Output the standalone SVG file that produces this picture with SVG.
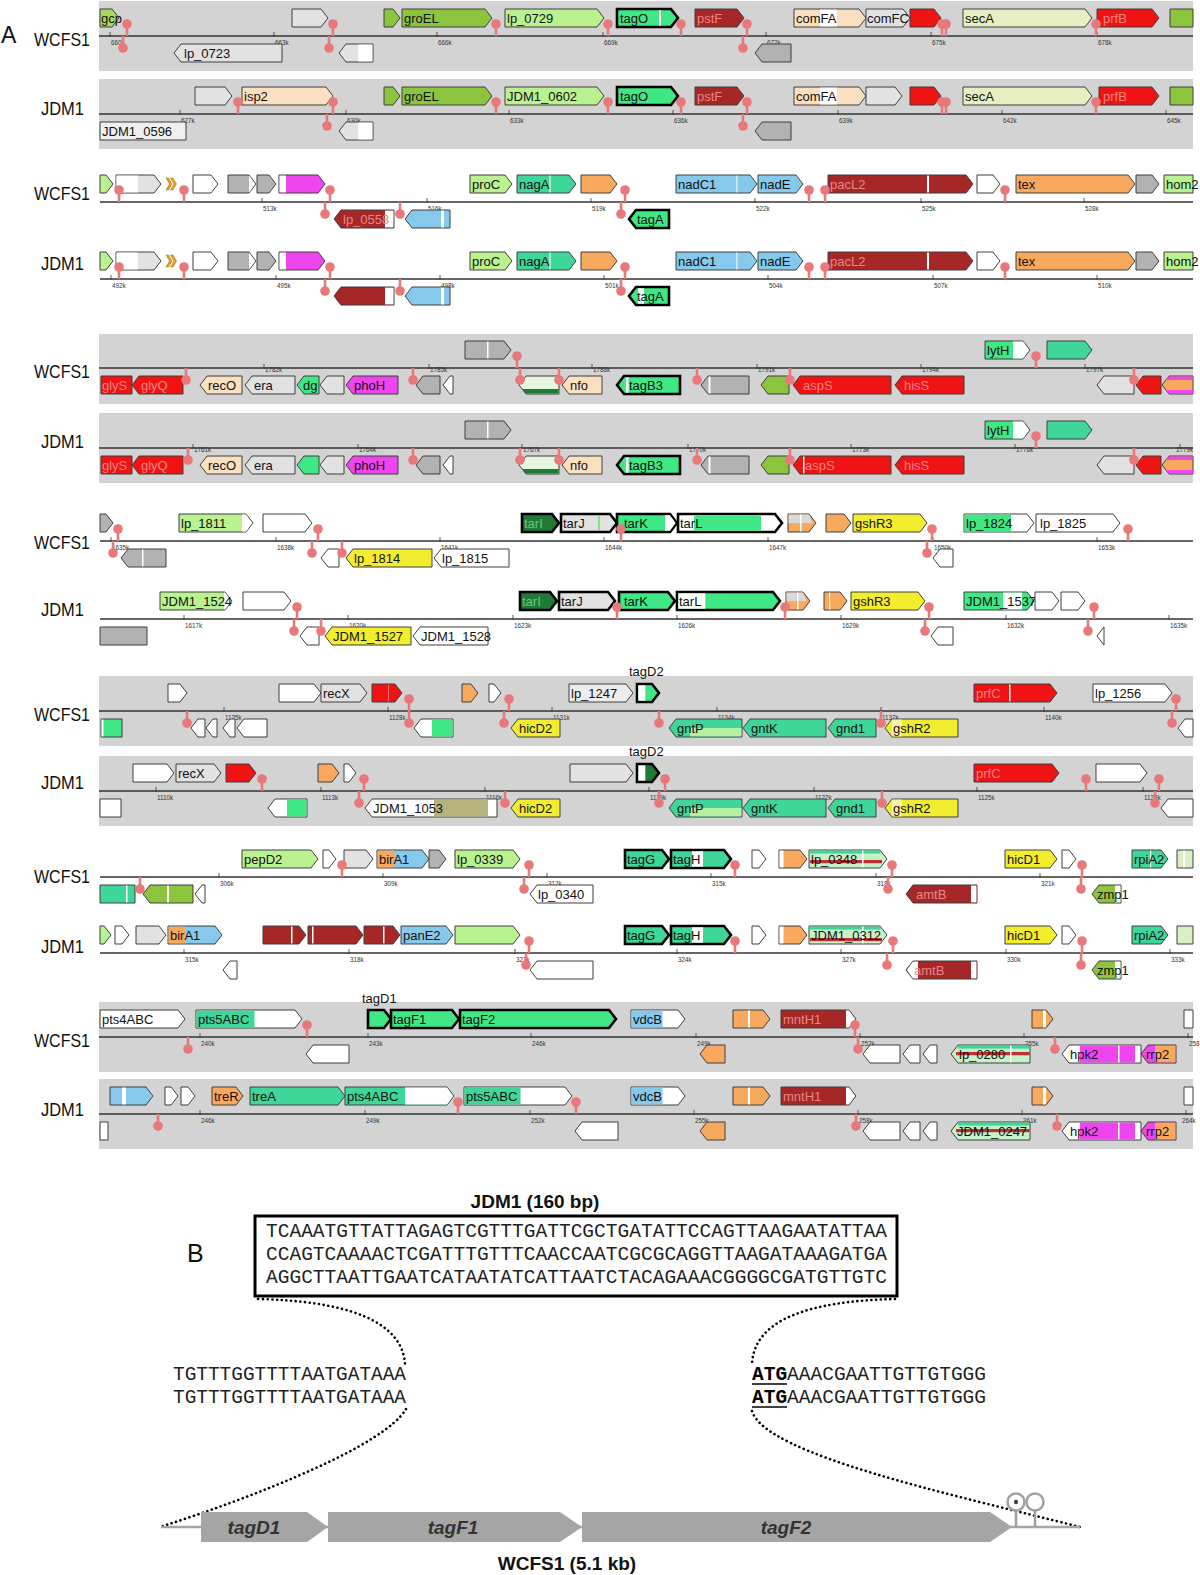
<svg xmlns="http://www.w3.org/2000/svg" width="1200" height="1575" viewBox="0 0 1200 1575">
<style>
text{font-family:"Liberation Sans",Arial,sans-serif}
.n{stroke:#3f3f3f;stroke-width:1}
.k{stroke:#000;stroke-width:2.6}
.og{fill:#a8d862}.ol{fill:#8cc43e}.lg{fill:#b9f28f}.bg{fill:#3fe884}.tl{fill:#3fd69a}.dr{fill:#a52727}.rd{fill:#f01313}.pc{fill:#fbdfc1}.sy{fill:#e6efc1}.ly{fill:#e2e2e2}.my{fill:#b2b2b2}.wh{fill:#fff}.mg{fill:#ef45ef}.lb{fill:#86c9ec}.or{fill:#f9a95e}.ye{fill:#f2ee2e}.dg{fill:#1e7a34}.kh{fill:#b4b37c}.pg{fill:#d9f0c6}.st{fill:#c6f2c8}
.bgp{fill:#d3d3d3}
.ax{stroke:#333;stroke-width:1.6;fill:none}
.l{font-size:13px;fill:#111}
.p{fill:#ee8585}
.q{fill:#6cc47a}
.x{font-size:6.3px;fill:#333}
.s{font-size:19px;fill:#111}
.tm{stroke:#e8787a;stroke-width:2.6}
.seq{font-family:"Liberation Mono","Courier New",monospace;font-size:19.5px;fill:#222}
.bl{font-weight:bold;font-size:19px;fill:#111}
.bi{font-weight:bold;font-style:italic;font-size:19px;fill:#333}
.ar{fill:#a5a5a5}
</style>
<defs>
<g id="tu"><path class="tm" d="M0,0V-12"/><circle cy="-12" r="4.8" fill="#e8787a"/></g>
<g id="td"><path class="tm" d="M0,0V12"/><circle cy="12" r="4.8" fill="#e8787a"/></g>
<path id="tk" d="M0,-4V1" stroke="#333" stroke-width="0.8"/>
</defs>
<rect width="1200" height="1575" fill="#fff"/>
<text x="1" y="43" font-size="23" fill="#111">A</text>

<!-- Panel 1 WCFS1 -->
<g id="track1-wcfs1" transform="translate(0,36)">
<rect class="bgp" x="99" y="-35" width="1094" height="70"/>
<text class="s" x="34" y="10" textLength="56" lengthAdjust="spacingAndGlyphs">WCFS1</text>
<path class="ax" d="M99,0H1193"/>
<use href="#tk" x="110"/><text class="x" x="111" y="8.5">660k</text>
<use href="#tk" x="274"/><text class="x" x="275" y="8.5">663k</text>
<use href="#tk" x="437"/><text class="x" x="438" y="8.5">666k</text>
<use href="#tk" x="603"/><text class="x" x="604" y="8.5">669k</text>
<use href="#tk" x="766"/><text class="x" x="767" y="8.5">672k</text>
<use href="#tk" x="931"/><text class="x" x="932" y="8.5">675k</text>
<use href="#tk" x="1097"/><text class="x" x="1098" y="8.5">678k</text>
<g id="w1-gcp"><path class="n og" d="M100,-27H112L119,-18L112,-9H100Z"/><text class="l" x="101" y="-13.5">gcp</text></g>
<g id="w1-lp0723"><path class="n ly" d="M174,17L181,8H282V26H181Z"/><text class="l" x="184" y="21.5">lp_0723</text></g>
<g id="w1-g3"><path class="n ly" d="M292,-27H321L328,-18L321,-9H292Z"/></g>
<g id="w1-g4"><path class="n ly" d="M339,17L346,8H373V26H346Z"/><rect class="wh" x="358" y="8.6" width="14.4" height="16.8"/></g>
<g id="w1-g5"><path class="n ol" d="M384,-27H393L400,-18L393,-9H384Z"/></g>
<g id="w1-groEL"><path class="n ol" d="M402,-27H485L492,-18L485,-9H402Z"/><text class="l" x="404" y="-13.5">groEL</text></g>
<g id="w1-lp0729"><path class="n lg" d="M505,-27H597L604,-18L597,-9H505Z"/><text class="l" x="507" y="-13.5">lp_0729</text></g>
<g id="w1-tagO"><path class="k bg" d="M617,-27H671L678,-18L671,-9H617Z"/><rect class="wh" x="659" y="-25.7" width="2" height="15.4"/><text class="l" x="620" y="-13.5">tagO</text></g>
<g id="w1-pstF"><path class="n dr" d="M695,-27H737L744,-18L737,-9H695Z"/><text class="l p" x="697" y="-13.5">pstF</text></g>
<g id="w1-g10"><path class="n my" d="M755,17L762,8H791V26H762Z"/></g>
<g id="w1-comFA"><path class="n pc" d="M794,-27H859L866,-18L859,-9H794Z"/><rect class="wh" x="820" y="-26.4" width="17" height="16.8"/><text class="l" x="796" y="-13.5">comFA</text></g>
<g id="w1-comFC"><path class="n ly" d="M866,-27H903L910,-18L903,-9H866Z"/><text class="l" x="867" y="-13.5">comFC</text></g>
<g id="w1-g13"><path class="n rd" d="M910,-27H934L941,-18L934,-9H910Z"/></g>
<g id="w1-secA"><path class="n sy" d="M963,-27H1085L1092,-18L1085,-9H963Z"/><text class="l" x="965" y="-13.5">secA</text></g>
<g id="w1-prfB"><path class="n rd" d="M1097,-27H1152L1159,-18L1152,-9H1097Z"/><text class="l p" x="1103" y="-13.5">prfB</text></g>
<g id="w1-g16"><path class="n ol" d="M1170,-27H1193V-9H1170Z"/></g>
<g id="w1-term"><use href="#tu" x="127"/><use href="#td" x="123"/><use href="#tu" x="333"/><use href="#td" x="329"/><use href="#tu" x="496"/><use href="#tu" x="608"/><use href="#tu" x="681"/><use href="#tu" x="747"/><use href="#td" x="743"/><use href="#tu" x="942"/><use href="#tu" x="946"/><use href="#tu" x="1096"/></g>
</g>

<!-- Panel 1 JDM1 -->
<g id="track1-jdm1" transform="translate(0,114)">
<rect class="bgp" x="99" y="-35" width="1094" height="70"/>
<text class="s" x="41" y="1" textLength="43" lengthAdjust="spacingAndGlyphs">JDM1</text>
<path class="ax" d="M99,0H1193"/>
<use href="#tk" x="180"/><text class="x" x="181" y="8.5">627k</text>
<use href="#tk" x="346"/><text class="x" x="347" y="8.5">630k</text>
<use href="#tk" x="509"/><text class="x" x="510" y="8.5">633k</text>
<use href="#tk" x="673"/><text class="x" x="674" y="8.5">636k</text>
<use href="#tk" x="838"/><text class="x" x="839" y="8.5">639k</text>
<use href="#tk" x="1002"/><text class="x" x="1003" y="8.5">642k</text>
<use href="#tk" x="1166"/><text class="x" x="1167" y="8.5">645k</text>
<g id="j1-0596"><path class="n" fill="#efefef" d="M100,8H186V26H100Z"/><text class="l" x="102" y="21.5">JDM1_0596</text></g>
<g id="j1-g2"><path class="n ly" d="M195,-27H225L232,-18L225,-9H195Z"/></g>
<g id="j1-isp2"><path class="n pc" d="M242,-27H326L333,-18L326,-9H242Z"/><text class="l" x="244" y="-13.5">isp2</text></g>
<g id="j1-g4"><path class="n ly" d="M339,17L346,8H373V26H346Z"/><rect class="wh" x="358" y="8.6" width="14.4" height="16.8"/></g>
<g id="j1-g5"><path class="n ol" d="M384,-27H393L400,-18L393,-9H384Z"/></g>
<g id="j1-groEL"><path class="n ol" d="M402,-27H485L492,-18L485,-9H402Z"/><text class="l" x="404" y="-13.5">groEL</text></g>
<g id="j1-0602"><path class="n lg" d="M505,-27H597L604,-18L597,-9H505Z"/><text class="l" x="507" y="-13.5">JDM1_0602</text></g>
<g id="j1-tagO"><path class="k bg" d="M617,-27H671L678,-18L671,-9H617Z"/><text class="l" x="620" y="-13.5">tagO</text></g>
<g id="j1-pstF"><path class="n dr" d="M695,-27H737L744,-18L737,-9H695Z"/><text class="l p" x="697" y="-13.5">pstF</text></g>
<g id="j1-g10"><path class="n my" d="M755,17L762,8H791V26H762Z"/></g>
<g id="j1-comFA"><path class="n pc" d="M794,-27H859L866,-18L859,-9H794Z"/><rect class="wh" x="820" y="-26.4" width="17" height="16.8"/><text class="l" x="796" y="-13.5">comFA</text></g>
<g id="j1-g12"><path class="n ly" d="M866,-27H895L902,-18L895,-9H866Z"/></g>
<g id="j1-g13"><path class="n rd" d="M910,-27H934L941,-18L934,-9H910Z"/></g>
<g id="j1-secA"><path class="n sy" d="M963,-27H1085L1092,-18L1085,-9H963Z"/><text class="l" x="965" y="-13.5">secA</text></g>
<g id="j1-prfB"><path class="n rd" d="M1099,-27H1152L1159,-18L1152,-9H1099Z"/><text class="l p" x="1103" y="-13.5">prfB</text></g>
<g id="j1-g16"><path class="n ol" d="M1170,-27H1193V-9H1170Z"/></g>
<g id="j1-term"><use href="#tu" x="238"/><use href="#tu" x="333"/><use href="#td" x="327"/><use href="#tu" x="496"/><use href="#tu" x="608"/><use href="#tu" x="681"/><use href="#tu" x="747"/><use href="#td" x="743"/><use href="#tu" x="942"/><use href="#tu" x="946"/><use href="#tu" x="1096"/></g>
</g>

<!-- Panel 2 WCFS1 -->
<g id="track2-wcfs1" transform="translate(0,202)">
<text class="s" x="34" y="-2" textLength="56" lengthAdjust="spacingAndGlyphs">WCFS1</text>
<path class="ax" d="M100,0H1193"/>
<use href="#tk" x="262"/><text class="x" x="263" y="8.5">513k</text>
<use href="#tk" x="427"/><text class="x" x="428" y="8.5">516k</text>
<use href="#tk" x="591"/><text class="x" x="592" y="8.5">519k</text>
<use href="#tk" x="755"/><text class="x" x="756" y="8.5">522k</text>
<use href="#tk" x="921"/><text class="x" x="922" y="8.5">525k</text>
<use href="#tk" x="1084"/><text class="x" x="1085" y="8.5">528k</text>
<g id="w2-g1"><path class="n lg" d="M100,-27H106L113,-18L106,-9H100Z"/></g>
<g id="w2-g2"><path class="n ly" d="M116,-27H154L161,-18L154,-9H116Z"/><rect class="wh" x="116.5" y="-26.4" width="21.5" height="16.8"/></g>
<g id="w2-ch"><path fill="#e9a21e" stroke="#9a6a10" stroke-width="0.5" d="M166,-24L168.5,-24L172,-18L168.5,-12L166,-12L169.5,-18Z M170.5,-24L173,-24L176.5,-18L173,-12L170.5,-12L174,-18Z"/></g>
<g id="w2-g4"><path class="n wh" d="M193,-27H211L218,-18L211,-9H193Z"/></g>
<g id="w2-g5"><path class="n my" d="M228,-27H249L256,-18L249,-9H228Z"/><path class="wh" d="M249,-26.4L255.3,-18L249,-9.6Z"/></g>
<g id="w2-g6"><path class="n my" d="M257,-27H269L276,-18L269,-9H257Z"/></g>
<g id="w2-g7"><path class="n mg" d="M279,-27H318L325,-18L318,-9H279Z"/><rect class="wh" x="279.5" y="-26.4" width="6.5" height="16.8"/></g>
<g id="w2-lp0558"><path class="n dr" d="M334,17L341,8H394V26H341Z"/><rect class="wh" x="385" y="8.6" width="8.5" height="16.8"/><text class="l p" x="343" y="21.5">lp_0558</text></g>
<g id="w2-g9"><path class="n lb" d="M405,17L412,8H450V26H412Z"/><rect class="wh" x="441" y="8.6" width="3" height="16.8"/></g>
<g id="w2-proC"><path class="n lg" d="M470,-27H505L512,-18L505,-9H470Z"/><text class="l" x="472" y="-13.5">proC</text></g>
<g id="w2-nagA"><path class="n tl" d="M517,-27H569L576,-18L569,-9H517Z"/><rect fill="#a5ecc8" x="549" y="-26.4" width="2" height="16.8"/><text class="l" x="519" y="-13.5">nagA</text></g>
<g id="w2-g12"><path class="n or" d="M581,-27H610L617,-18L610,-9H581Z"/></g>
<g id="w2-tagA"><path class="k bg" d="M629,17L636,8H669V26H636Z"/><text class="l" x="637" y="21.5">tagA</text></g>
<g id="w2-nadC1"><path class="n lb" d="M676,-27H750L757,-18L750,-9H676Z"/><rect fill="#d2ecf8" x="736" y="-26.4" width="1.5" height="16.8"/><text class="l" x="678" y="-13.5">nadC1</text></g>
<g id="w2-nadE"><path class="n lb" d="M758,-27H796L803,-18L796,-9H758Z"/><text class="l" x="760" y="-13.5">nadE</text></g>
<g id="w2-pacL2"><path class="n dr" d="M828,-27H966L973,-18L966,-9H828Z"/><rect class="wh" x="927" y="-26.4" width="2" height="16.8"/><text class="l p" x="830" y="-13.5">pacL2</text></g>
<g id="w2-g17"><path class="n wh" d="M977,-27H993L1000,-18L993,-9H977Z"/></g>
<g id="w2-tex"><path class="n or" d="M1016,-27H1128L1135,-18L1128,-9H1016Z"/><text class="l" x="1018" y="-13.5">tex</text></g>
<g id="w2-g19"><path class="n my" d="M1136,-27H1152L1159,-18L1152,-9H1136Z"/></g>
<g id="w2-hom2"><path class="n lg" d="M1164,-27H1193V-9H1164Z"/><text class="l" x="1166" y="-13.5">hom2</text></g>
<g id="w2-term"><use href="#tu" x="119"/><use href="#tu" x="184"/><use href="#tu" x="330"/><use href="#td" x="325"/><use href="#td" x="400"/><use href="#tu" x="625"/><use href="#td" x="621"/><use href="#tu" x="809"/><use href="#tu" x="825"/><use href="#tu" x="1005"/></g>
</g>

<!-- Panel 2 JDM1 -->
<g id="track2-jdm1" transform="translate(0,279)">
<text class="s" x="41" y="-9" textLength="43" lengthAdjust="spacingAndGlyphs">JDM1</text>
<path class="ax" d="M100,0H1193"/>
<use href="#tk" x="111"/><text class="x" x="112" y="8.5">492k</text>
<use href="#tk" x="276"/><text class="x" x="277" y="8.5">495k</text>
<use href="#tk" x="440"/><text class="x" x="441" y="8.5">498k</text>
<use href="#tk" x="604"/><text class="x" x="605" y="8.5">501k</text>
<use href="#tk" x="768"/><text class="x" x="769" y="8.5">504k</text>
<use href="#tk" x="933"/><text class="x" x="934" y="8.5">507k</text>
<use href="#tk" x="1097"/><text class="x" x="1098" y="8.5">510k</text>
<g id="j2-g1"><path class="n lg" d="M100,-27H106L113,-18L106,-9H100Z"/></g>
<g id="j2-g2"><path class="n ly" d="M116,-27H154L161,-18L154,-9H116Z"/><rect class="wh" x="116.5" y="-26.4" width="21.5" height="16.8"/></g>
<g id="j2-ch"><path fill="#e9a21e" stroke="#9a6a10" stroke-width="0.5" d="M166,-24L168.5,-24L172,-18L168.5,-12L166,-12L169.5,-18Z M170.5,-24L173,-24L176.5,-18L173,-12L170.5,-12L174,-18Z"/></g>
<g id="j2-g4"><path class="n wh" d="M193,-27H211L218,-18L211,-9H193Z"/></g>
<g id="j2-g5"><path class="n my" d="M228,-27H249L256,-18L249,-9H228Z"/><path class="wh" d="M249,-26.4L255.3,-18L249,-9.6Z"/></g>
<g id="j2-g6"><path class="n my" d="M257,-27H269L276,-18L269,-9H257Z"/></g>
<g id="j2-g7"><path class="n mg" d="M279,-27H318L325,-18L318,-9H279Z"/><rect class="wh" x="279.5" y="-26.4" width="6.5" height="16.8"/></g>
<g id="j2-g8"><path class="n dr" d="M334,17L341,8H394V26H341Z"/><rect class="wh" x="385" y="8.6" width="8.5" height="16.8"/></g>
<g id="j2-g9"><path class="n lb" d="M405,17L412,8H450V26H412Z"/><rect class="wh" x="441" y="8.6" width="3" height="16.8"/></g>
<g id="j2-proC"><path class="n lg" d="M470,-27H505L512,-18L505,-9H470Z"/><text class="l" x="472" y="-13.5">proC</text></g>
<g id="j2-nagA"><path class="n tl" d="M517,-27H569L576,-18L569,-9H517Z"/><rect fill="#a5ecc8" x="549" y="-26.4" width="2" height="16.8"/><text class="l" x="519" y="-13.5">nagA</text></g>
<g id="j2-g12"><path class="n or" d="M581,-27H610L617,-18L610,-9H581Z"/></g>
<g id="j2-tagA"><path class="k bg" d="M629,17L636,8H669V26H636Z"/><rect class="wh" x="638" y="9.3" width="6" height="15.4"/><text class="l" x="637" y="21.5">tagA</text></g>
<g id="j2-nadC1"><path class="n lb" d="M676,-27H750L757,-18L750,-9H676Z"/><rect fill="#d2ecf8" x="736" y="-26.4" width="1.5" height="16.8"/><text class="l" x="678" y="-13.5">nadC1</text></g>
<g id="j2-nadE"><path class="n lb" d="M758,-27H796L803,-18L796,-9H758Z"/><text class="l" x="760" y="-13.5">nadE</text></g>
<g id="j2-pacL2"><path class="n dr" d="M828,-27H966L973,-18L966,-9H828Z"/><rect class="wh" x="927" y="-26.4" width="2" height="16.8"/><text class="l p" x="830" y="-13.5">pacL2</text></g>
<g id="j2-g17"><path class="n wh" d="M977,-27H993L1000,-18L993,-9H977Z"/></g>
<g id="j2-tex"><path class="n or" d="M1016,-27H1128L1135,-18L1128,-9H1016Z"/><text class="l" x="1018" y="-13.5">tex</text></g>
<g id="j2-g19"><path class="n my" d="M1136,-27H1152L1159,-18L1152,-9H1136Z"/></g>
<g id="j2-hom2"><path class="n lg" d="M1164,-27H1193V-9H1164Z"/><text class="l" x="1166" y="-13.5">hom2</text></g>
<g id="j2-term"><use href="#tu" x="119"/><use href="#tu" x="184"/><use href="#tu" x="330"/><use href="#td" x="325"/><use href="#td" x="400"/><use href="#tu" x="625"/><use href="#td" x="621"/><use href="#tu" x="809"/><use href="#tu" x="825"/><use href="#tu" x="1005"/></g>
</g>

<!-- Panel 3 WCFS1 -->
<g id="track3-wcfs1" transform="translate(0,368)">
<rect class="bgp" x="99" y="-34" width="1094" height="70"/>
<text class="s" x="34" y="10" textLength="56" lengthAdjust="spacingAndGlyphs">WCFS1</text>
<path class="ax" d="M99,0H1193"/>
<use href="#tk" x="264"/><text class="x" x="265" y="4">1782k</text>
<use href="#tk" x="429"/><text class="x" x="430" y="4">1785k</text>
<use href="#tk" x="592"/><text class="x" x="593" y="4">1788k</text>
<use href="#tk" x="757"/><text class="x" x="758" y="4">1791k</text>
<use href="#tk" x="921"/><text class="x" x="922" y="4">1794k</text>
<use href="#tk" x="1085"/><text class="x" x="1086" y="4">1797k</text>
<g id="w3-glyS"><path class="n rd" d="M101,8H132V26H101Z"/><text class="l p" x="102" y="21.5">glyS</text></g>
<g id="w3-glyQ"><path class="n rd" d="M132,17L139,8H183V26H139Z"/><text class="l p" x="141" y="21.5">glyQ</text></g>
<g id="w3-recO"><path class="n pc" d="M200,17L207,8H242V26H207Z"/><text class="l" x="208" y="21.5">recO</text></g>
<g id="w3-era"><path class="n ly" d="M245,17L252,8H295V26H252Z"/><text class="l" x="254" y="21.5">era</text></g>
<g id="w3-dg"><path class="n bg" d="M297,17L304,8H319V26H304Z"/><text class="l" x="303" y="21.5">dg</text></g>
<g id="w3-g6"><path class="n ly" d="M320,17L327,8H344V26H327Z"/></g>
<g id="w3-phoH"><path class="n mg" d="M346,17L353,8H398V26H353Z"/><text class="l" x="354" y="21.5">phoH</text></g>
<g id="w3-g8"><path class="n my" d="M416,17L423,8H440V26H423Z"/></g>
<g id="w3-g9"><path class="n wh" d="M443,17L450,8H453V26H450Z"/></g>
<g id="w3-g10"><path class="n my" d="M465,-27H504L511,-18L504,-9H465Z"/><rect class="wh" x="487" y="-26.4" width="1.5" height="16.8"/></g>
<g id="w3-g11"><path class="n" fill="#e6f6de" d="M519,17L526,8H559V26H526Z"/><path class="dg" d="M522.1,21H558.5V25.5H525.5Z"/></g>
<g id="w3-nfo"><path class="n pc" d="M562,17L569,8H602V26H569Z"/><text class="l" x="570" y="21.5">nfo</text></g>
<g id="w3-tagB3"><path class="k bg" d="M617,17L624,8H680V26H624Z"/><rect class="wh" x="626" y="9.3" width="2.5" height="15.4"/><text class="l" x="629" y="21.5">tagB3</text></g>
<g id="w3-g14"><path class="n my" d="M701,17L708,8H749V26H708Z"/><rect class="wh" x="708.5" y="8.6" width="2" height="16.8"/></g>
<g id="w3-g15"><path class="n ol" d="M761,17L768,8H789V26H768Z"/></g>
<g id="w3-aspS"><path class="n rd" d="M793,17L800,8H891V26H800Z"/><text class="l p" x="803" y="21.5">aspS</text></g>
<g id="w3-hisS"><path class="n rd" d="M895,17L902,8H964V26H902Z"/><text class="l p" x="904" y="21.5">hisS</text></g>
<g id="w3-lytH"><path class="n bg" d="M985,-27H1023L1030,-18L1023,-9H985Z"/><path class="wh" d="M1013,-26.4H1023L1029.3,-18L1023,-9.6H1013Z"/><text class="l" x="987" y="-13.5">lytH</text></g>
<g id="w3-g19"><path class="n tl" d="M1047,-27H1085L1092,-18L1085,-9H1047Z"/></g>
<g id="w3-g20"><path class="n ly" d="M1097,17L1104,8H1134V26H1104Z"/></g>
<g id="w3-g21"><path class="n rd" d="M1136,17L1143,8H1161V26H1143Z"/></g>
<g id="w3-g22"><path class="n or" d="M1162,17L1169,8H1193V26H1169Z"/><path class="mg" d="M1168.5,8.6H1193V12H1165.9Z M1165.9,22H1193V25.4H1168.5Z"/></g>
<g id="w3-term"><use href="#td" x="186"/><use href="#td" x="413"/><use href="#tu" x="517"/><use href="#td" x="520"/><use href="#td" x="559"/><use href="#td" x="697"/><use href="#td" x="790"/><use href="#tu" x="1036"/><use href="#td" x="1134"/></g>
</g>

<!-- Panel 3 JDM1 -->
<g id="track3-jdm1" transform="translate(0,448)">
<rect class="bgp" x="99" y="-35" width="1094" height="70"/>
<text class="s" x="41" y="0" textLength="43" lengthAdjust="spacingAndGlyphs">JDM1</text>
<path class="ax" d="M99,0H1193"/>
<use href="#tk" x="193"/><text class="x" x="194" y="4">1761k</text>
<use href="#tk" x="358"/><text class="x" x="359" y="4">1764k</text>
<use href="#tk" x="522"/><text class="x" x="523" y="4">1767k</text>
<use href="#tk" x="688"/><text class="x" x="689" y="4">1770k</text>
<use href="#tk" x="851"/><text class="x" x="852" y="4">1773k</text>
<use href="#tk" x="1015"/><text class="x" x="1016" y="4">1776k</text>
<use href="#tk" x="1180"/><text class="x" x="1176" y="4">1779k</text>
<g id="j3-glyS"><path class="n rd" d="M101,8H132V26H101Z"/><text class="l p" x="102" y="21.5">glyS</text></g>
<g id="j3-glyQ"><path class="n rd" d="M132,17L139,8H183V26H139Z"/><text class="l p" x="141" y="21.5">glyQ</text></g>
<g id="j3-recO"><path class="n pc" d="M200,17L207,8H242V26H207Z"/><text class="l" x="208" y="21.5">recO</text></g>
<g id="j3-era"><path class="n ly" d="M245,17L252,8H295V26H252Z"/><text class="l" x="254" y="21.5">era</text></g>
<g id="j3-g5"><path class="n bg" d="M297,17L304,8H319V26H304Z"/></g>
<g id="j3-g6"><path class="n ly" d="M320,17L327,8H344V26H327Z"/></g>
<g id="j3-phoH"><path class="n mg" d="M346,17L353,8H398V26H353Z"/><text class="l" x="354" y="21.5">phoH</text></g>
<g id="j3-g8"><path class="n my" d="M416,17L423,8H440V26H423Z"/></g>
<g id="j3-g9"><path class="n wh" d="M443,17L450,8H453V26H450Z"/></g>
<g id="j3-g10"><path class="n my" d="M465,-27H504L511,-18L504,-9H465Z"/><rect class="wh" x="487" y="-26.4" width="1.5" height="16.8"/></g>
<g id="j3-g11"><path class="n" fill="#e6f6de" d="M519,17L526,8H559V26H526Z"/><path class="dg" d="M522.1,21H558.5V25.5H525.5Z"/></g>
<g id="j3-nfo"><path class="n pc" d="M562,17L569,8H602V26H569Z"/><text class="l" x="570" y="21.5">nfo</text></g>
<g id="j3-tagB3"><path class="k bg" d="M617,17L624,8H680V26H624Z"/><rect class="wh" x="626" y="9.3" width="2.5" height="15.4"/><text class="l" x="629" y="21.5">tagB3</text></g>
<g id="j3-g14"><path class="n my" d="M701,17L708,8H749V26H708Z"/><rect class="wh" x="708.5" y="8.6" width="2" height="16.8"/></g>
<g id="j3-g15"><path class="n ol" d="M761,17L768,8H789V26H768Z"/></g>
<g id="j3-aspS"><path class="n rd" d="M793,17L800,8H891V26H800Z"/><rect class="wh" x="803" y="8.6" width="1.5" height="16.8"/><text class="l p" x="805" y="21.5">aspS</text></g>
<g id="j3-hisS"><path class="n rd" d="M895,17L902,8H964V26H902Z"/><text class="l p" x="904" y="21.5">hisS</text></g>
<g id="j3-lytH"><path class="n bg" d="M985,-27H1023L1030,-18L1023,-9H985Z"/><path class="wh" d="M1013,-26.4H1023L1029.3,-18L1023,-9.6H1013Z"/><text class="l" x="987" y="-13.5">lytH</text></g>
<g id="j3-g19"><path class="n tl" d="M1047,-27H1085L1092,-18L1085,-9H1047Z"/></g>
<g id="j3-g20"><path class="n ly" d="M1097,17L1104,8H1134V26H1104Z"/></g>
<g id="j3-g21"><path class="n rd" d="M1136,17L1143,8H1161V26H1143Z"/></g>
<g id="j3-g22"><path class="n or" d="M1162,17L1169,8H1193V26H1169Z"/><path class="mg" d="M1168.5,8.6H1193V12H1165.9Z M1165.9,22H1193V25.4H1168.5Z"/></g>
<g id="j3-term"><use href="#td" x="188"/><use href="#td" x="413"/><use href="#td" x="520"/><use href="#td" x="559"/><use href="#td" x="697"/><use href="#td" x="790"/><use href="#tu" x="1036"/><use href="#td" x="1134"/></g>
</g>

<!-- Panel 4 WCFS1 -->
<g id="track4-wcfs1" transform="translate(0,541)">
<text class="s" x="34" y="8" textLength="56" lengthAdjust="spacingAndGlyphs">WCFS1</text>
<path class="ax" d="M100,0H1193"/>
<use href="#tk" x="111"/><text class="x" x="112" y="8.5">1635k</text>
<use href="#tk" x="276"/><text class="x" x="277" y="8.5">1638k</text>
<use href="#tk" x="440"/><text class="x" x="441" y="8.5">1641k</text>
<use href="#tk" x="604"/><text class="x" x="605" y="8.5">1644k</text>
<use href="#tk" x="768"/><text class="x" x="769" y="8.5">1647k</text>
<use href="#tk" x="933"/><text class="x" x="934" y="8.5">1650k</text>
<use href="#tk" x="1097"/><text class="x" x="1098" y="8.5">1653k</text>
<g id="w4-g1"><path class="n my" d="M100,-27H106L113,-18L106,-9H100Z"/></g>
<g id="w4-g2"><path class="n my" d="M121,17L128,8H166V26H128Z"/><rect class="wh" x="142" y="8.6" width="1.5" height="16.8"/></g>
<g id="w4-lp1811"><path class="n lg" d="M179,-27H246L253,-18L246,-9H179Z"/><path class="wh" d="M242,-26.4H246L252.3,-18L246,-9.6H242Z"/><text class="l" x="181" y="-13.5">lp_1811</text></g>
<g id="w4-g4"><path class="n wh" d="M263,-27H305L312,-18L305,-9H263Z"/></g>
<g id="w4-g5"><path class="n wh" d="M321,17L328,8H339V26H328Z"/></g>
<g id="w4-lp1814"><path class="n ye" d="M346,17L353,8H432V26H353Z"/><text class="l" x="354" y="21.5">lp_1814</text></g>
<g id="w4-lp1815"><path class="n wh" d="M434,17L441,8H509V26H441Z"/><text class="l" x="442" y="21.5">lp_1815</text></g>
<g id="w4-tarI"><path class="k dg" d="M522,-27H552L559,-18L552,-9H522Z"/><text class="l q" x="524" y="-13.5">tarI</text></g>
<g id="w4-tarJ"><path class="k ly" d="M561,-27H610L617,-18L610,-9H561Z"/><rect fill="#7ee87e" x="598" y="-25" width="2" height="14"/><text class="l" x="563" y="-13.5">tarJ</text></g>
<g id="w4-tarK"><path class="k bg" d="M617,-27H670L677,-18L670,-9H617Z"/><path class="wh" d="M665,-25.7H670L675.5,-18L670,-10.3H665Z"/><text class="l" x="624" y="-13.5">tarK</text></g>
<g id="w4-tarL"><path class="k wh" d="M678,-27H775L782,-18L775,-9H678Z"/><rect class="bg" x="694" y="-25.7" width="67" height="15.4"/><text class="l" x="680" y="-13.5">tarL</text></g>
<g id="w4-g12"><path class="n or" d="M788,-27H809L816,-18L809,-9H788Z"/><path fill="#d9d9d9" d="M788.5,-26.4H809L812.5,-18H788.5Z"/><rect class="wh" x="800" y="-26.4" width="1.5" height="16.8"/></g>
<g id="w4-g13"><path class="n or" d="M826,-27H844L851,-18L844,-9H826Z"/></g>
<g id="w4-gshR3"><path class="n ye" d="M853,-27H920L927,-18L920,-9H853Z"/><text class="l" x="855" y="-13.5">gshR3</text></g>
<g id="w4-g15"><path class="n wh" d="M933,17L940,8H953V26H940Z"/></g>
<g id="w4-lp1824"><path class="n wh" d="M964,-27H1027L1034,-18L1027,-9H964Z"/><rect class="bg" x="964.5" y="-26.4" width="46.5" height="16.8"/><text class="l" x="966" y="-13.5">lp_1824</text></g>
<g id="w4-lp1825"><path class="n wh" d="M1036,-27H1113L1120,-18L1113,-9H1036Z"/><text class="l" x="1040" y="-13.5">lp_1825</text></g>
<g id="w4-term"><use href="#tu" x="118"/><use href="#td" x="113"/><use href="#tu" x="318"/><use href="#td" x="312"/><use href="#td" x="342"/><use href="#tu" x="621"/><use href="#tu" x="932"/><use href="#td" x="927"/><use href="#tu" x="1128"/></g>
</g>

<!-- Panel 4 JDM1 -->
<g id="track4-jdm1" transform="translate(0,619)">
<text class="s" x="41" y="-3" textLength="43" lengthAdjust="spacingAndGlyphs">JDM1</text>
<path class="ax" d="M100,0H1193"/>
<use href="#tk" x="184"/><text class="x" x="185" y="8.5">1617k</text>
<use href="#tk" x="348"/><text class="x" x="349" y="8.5">1620k</text>
<use href="#tk" x="513"/><text class="x" x="514" y="8.5">1623k</text>
<use href="#tk" x="677"/><text class="x" x="678" y="8.5">1626k</text>
<use href="#tk" x="841"/><text class="x" x="842" y="8.5">1629k</text>
<use href="#tk" x="1006"/><text class="x" x="1007" y="8.5">1632k</text>
<use href="#tk" x="1169"/><text class="x" x="1170" y="8.5">1635k</text>
<g id="j4-g1"><path class="n my" d="M100,8H147V26H100Z"/></g>
<g id="j4-1524"><path class="n lg" d="M160,-27H225L232,-18L225,-9H160Z"/><path class="wh" d="M224,-26.4H225L231.3,-18L225,-9.6H224Z"/><text class="l" x="162" y="-13.5">JDM1_1524</text></g>
<g id="j4-g3"><path class="n wh" d="M243,-27H284L291,-18L284,-9H243Z"/></g>
<g id="j4-g4"><path class="n wh" d="M300,17L307,8H319V26H307Z"/></g>
<g id="j4-1527"><path class="n ye" d="M325,17L332,8H411V26H332Z"/><text class="l" x="333" y="21.5">JDM1_1527</text></g>
<g id="j4-1528"><path class="n wh" d="M413,17L420,8H488V26H420Z"/><text class="l" x="421" y="21.5">JDM1_1528</text></g>
<g id="j4-tarI"><path class="k dg" d="M520,-27H550L557,-18L550,-9H520Z"/><text class="l q" x="522" y="-13.5">tarI</text></g>
<g id="j4-tarJ"><path class="k ly" d="M559,-27H608L615,-18L608,-9H559Z"/><text class="l" x="561" y="-13.5">tarJ</text></g>
<g id="j4-tarK"><path class="k bg" d="M619,-27H668L675,-18L668,-9H619Z"/><text class="l" x="624" y="-13.5">tarK</text></g>
<g id="j4-tarL"><path class="k bg" d="M677,-27H773L780,-18L773,-9H677Z"/><rect class="wh" x="678.3" y="-25.7" width="27" height="15.4"/><text class="l" x="679" y="-13.5">tarL</text></g>
<g id="j4-g12"><path class="n or" d="M786,-27H803L810,-18L803,-9H786Z"/><path fill="#d9d9d9" d="M786.5,-26.4H803L806.5,-18H786.5Z"/><rect class="wh" x="797" y="-26.4" width="1.5" height="16.8"/></g>
<g id="j4-g13"><path class="n or" d="M824,-27H840L847,-18L840,-9H824Z"/><rect class="wh" x="829" y="-26.4" width="1.2" height="16.8"/></g>
<g id="j4-gshR3"><path class="n ye" d="M851,-27H918L925,-18L918,-9H851Z"/><text class="l" x="853" y="-13.5">gshR3</text></g>
<g id="j4-g15"><path class="n wh" d="M931,17L938,8H953V26H938Z"/></g>
<g id="j4-1537"><path class="n bg" d="M964,-27H1027L1034,-18L1027,-9H964Z"/><rect class="wh" x="1003" y="-26.4" width="19" height="16.8"/><text class="l" x="966" y="-13.5">JDM1_1537</text></g>
<g id="j4-g17"><path class="n wh" d="M1035,-27H1052L1059,-18L1052,-9H1035Z"/></g>
<g id="j4-g18"><path class="n wh" d="M1061,-27H1078L1085,-18L1078,-9H1061Z"/></g>
<g id="j4-g19"><path class="n wh" d="M1097,17L1104,8V26Z"/></g>
<g id="j4-term"><use href="#tu" x="297"/><use href="#td" x="294"/><use href="#td" x="321"/><use href="#tu" x="617"/><use href="#tu" x="785"/><use href="#tu" x="929"/><use href="#td" x="925"/><use href="#tu" x="1094"/><use href="#td" x="1088"/></g>
</g>

<!-- Panel 5 WCFS1 -->
<g id="track5-wcfs1" transform="translate(0,711)">
<rect class="bgp" x="99" y="-35" width="1094" height="70"/>
<text class="s" x="34" y="10" textLength="56" lengthAdjust="spacingAndGlyphs">WCFS1</text>
<path class="ax" d="M99,0H1193"/>
<use href="#tk" x="224"/><text class="x" x="225" y="8.5">1125k</text>
<use href="#tk" x="388"/><text class="x" x="389" y="8.5">1128k</text>
<use href="#tk" x="552"/><text class="x" x="553" y="8.5">1131k</text>
<use href="#tk" x="717"/><text class="x" x="718" y="8.5">1134k</text>
<use href="#tk" x="881"/><text class="x" x="882" y="8.5">1137k</text>
<use href="#tk" x="1044"/><text class="x" x="1045" y="8.5">1140k</text>
<g id="w5-g1"><path class="n bg" d="M101,8H122V26H101Z"/><rect class="wh" x="101.5" y="8.6" width="2" height="16.8"/></g>
<g id="w5-g2"><path class="n wh" d="M168,-27H180L187,-18L180,-9H168Z"/></g>
<g id="w5-g3"><path class="n wh" d="M191,17L198,8H205V26H198Z"/></g>
<g id="w5-g4"><path class="n wh" d="M206,17L213,8H217V26H213Z"/></g>
<g id="w5-g5"><path class="n wh" d="M223,17L230,8H235V26H230Z"/></g>
<g id="w5-g6"><path class="n wh" d="M237,17L244,8H267V26H244Z"/></g>
<g id="w5-g7"><path class="n wh" d="M279,-27H314L321,-18L314,-9H279Z"/></g>
<g id="w5-recX"><path class="n ly" d="M321,-27H360L367,-18L360,-9H321Z"/><text class="l" x="323" y="-13.5">recX</text></g>
<g id="w5-g9"><path class="n rd" d="M372,-27H395L402,-18L395,-9H372Z"/><rect fill="#ff6a6a" x="388" y="-26.4" width="1" height="16.8"/></g>
<g id="w5-g10"><path class="n wh" d="M414,17L421,8H453V26H421Z"/><rect class="bg" x="432" y="8.6" width="20.5" height="16.8"/></g>
<g id="w5-g11"><path class="n or" d="M462,-27H471L478,-18L471,-9H462Z"/></g>
<g id="w5-g12"><path class="n wh" d="M489,-27H494L501,-18L494,-9H489Z"/></g>
<g id="w5-hicD2"><path class="n ye" d="M511,17L518,8H560V26H518Z"/><text class="l" x="519" y="21.5">hicD2</text></g>
<g id="w5-lp1247"><path class="n" fill="#ececec" d="M569,-27H626L633,-18L626,-9H569Z"/><text class="l" x="571" y="-13.5">lp_1247</text></g>
<g id="w5-tagD2"><path class="k bg" d="M637,-27H652L659,-18L652,-9H637Z"/><rect class="wh" x="638.3" y="-25.7" width="7" height="15.4"/><text class="l" x="629" y="-35">tagD2</text></g>
<g id="w5-gntP"><path class="n tl" d="M669,17L676,8H742V26H676Z"/><rect fill="#b4f0a0" x="690" y="17" width="51.5" height="8.4"/><text class="l" x="677" y="21.5">gntP</text></g>
<g id="w5-gntK"><path class="n tl" d="M743,17L750,8H826V26H750Z"/><text class="l" x="751" y="21.5">gntK</text></g>
<g id="w5-gnd1"><path class="n tl" d="M828,17L835,8H876V26H835Z"/><text class="l" x="836" y="21.5">gnd1</text></g>
<g id="w5-gshR2"><path class="n ye" d="M885,17L892,8H958V26H892Z"/><rect fill="#f6f2a8" x="892" y="8.6" width="10" height="16.8"/><text class="l" x="893" y="21.5">gshR2</text></g>
<g id="w5-prfC"><path class="n rd" d="M974,-27H1050L1057,-18L1050,-9H974Z"/><rect class="wh" x="1009" y="-26.4" width="1.5" height="16.8"/><text class="l p" x="976" y="-13.5">prfC</text></g>
<g id="w5-lp1256"><path class="n wh" d="M1093,-27H1165L1172,-18L1165,-9H1093Z"/><text class="l" x="1095" y="-13.5">lp_1256</text></g>
<g id="w5-g19"><path class="n wh" d="M1178,17L1185,8H1193V26H1185Z"/></g>
<g id="w5-term"><use href="#td" x="187"/><use href="#tu" x="409"/><use href="#td" x="409"/><use href="#tu" x="509"/><use href="#td" x="504"/><use href="#td" x="659"/><use href="#td" x="881"/><use href="#tu" x="1176"/><use href="#td" x="1172"/></g>
</g>

<!-- Panel 5 JDM1 -->
<g id="track5-jdm1" transform="translate(0,791)">
<rect class="bgp" x="99" y="-35" width="1094" height="70"/>
<text class="s" x="41" y="-2" textLength="43" lengthAdjust="spacingAndGlyphs">JDM1</text>
<path class="ax" d="M99,0H1193"/>
<use href="#tk" x="156"/><text class="x" x="157" y="8.5">1110k</text>
<use href="#tk" x="321"/><text class="x" x="322" y="8.5">1113k</text>
<use href="#tk" x="485"/><text class="x" x="486" y="8.5">1116k</text>
<use href="#tk" x="649"/><text class="x" x="650" y="8.5">1119k</text>
<use href="#tk" x="814"/><text class="x" x="815" y="8.5">1122k</text>
<use href="#tk" x="977"/><text class="x" x="978" y="8.5">1125k</text>
<use href="#tk" x="1143"/><text class="x" x="1144" y="8.5">1128k</text>
<g id="j5-g1"><path class="n wh" d="M100,8H121V26H100Z"/></g>
<g id="j5-g2"><path class="n wh" d="M133,-27H167L174,-18L167,-9H133Z"/></g>
<g id="j5-recX"><path class="n ly" d="M176,-27H214L221,-18L214,-9H176Z"/><text class="l" x="178" y="-13.5">recX</text></g>
<g id="j5-g4"><path class="n rd" d="M226,-27H249L256,-18L249,-9H226Z"/></g>
<g id="j5-g5"><path class="n wh" d="M268,17L275,8H307V26H275Z"/><rect class="bg" x="287" y="8.6" width="19.5" height="16.8"/></g>
<g id="j5-g6"><path class="n or" d="M318,-27H332L339,-18L332,-9H318Z"/></g>
<g id="j5-g7"><path class="n wh" d="M344,-27H349L356,-18L349,-9H344Z"/></g>
<g id="j5-1053"><path class="n wh" d="M365,17L372,8H497V26H372Z"/><rect class="kh" x="434" y="8.6" width="54" height="16.8"/><text class="l" x="373" y="21.5">JDM1_1053</text></g>
<g id="j5-hicD2"><path class="n ye" d="M511,17L518,8H560V26H518Z"/><text class="l" x="519" y="21.5">hicD2</text></g>
<g id="j5-g10"><path class="n ly" d="M570,-27H626L633,-18L626,-9H570Z"/></g>
<g id="j5-tagD2"><path class="k dg" d="M637,-27H652L659,-18L652,-9H637Z"/><rect class="wh" x="638.3" y="-25.7" width="7" height="15.4"/><text class="l" x="629" y="-35">tagD2</text></g>
<g id="j5-gntP"><path class="n tl" d="M669,17L676,8H742V26H676Z"/><rect fill="#b4f0a0" x="690" y="17" width="51.5" height="8.4"/><text class="l" x="677" y="21.5">gntP</text></g>
<g id="j5-gntK"><path class="n tl" d="M743,17L750,8H826V26H750Z"/><text class="l" x="751" y="21.5">gntK</text></g>
<g id="j5-gnd1"><path class="n tl" d="M828,17L835,8H876V26H835Z"/><text class="l" x="836" y="21.5">gnd1</text></g>
<g id="j5-gshR2"><path class="n ye" d="M885,17L892,8H958V26H892Z"/><rect fill="#f6f2a8" x="892" y="8.6" width="10" height="16.8"/><text class="l" x="893" y="21.5">gshR2</text></g>
<g id="j5-prfC"><path class="n rd" d="M974,-27H1052L1059,-18L1052,-9H974Z"/><text class="l p" x="976" y="-13.5">prfC</text></g>
<g id="j5-g16"><path class="n wh" d="M1096,-27H1140L1147,-18L1140,-9H1096Z"/></g>
<g id="j5-g17"><path class="n wh" d="M1161,17L1168,8H1193V26H1168Z"/></g>
<g id="j5-term"><use href="#tu" x="262"/><use href="#tu" x="364"/><use href="#td" x="359"/><use href="#td" x="505"/><use href="#tu" x="665"/><use href="#td" x="659"/><use href="#td" x="882"/><use href="#tu" x="1086"/><use href="#tu" x="1159"/><use href="#td" x="1155"/></g>
</g>

<!-- Panel 6 WCFS1 -->
<g id="track6-wcfs1" transform="translate(0,877)">
<text class="s" x="34" y="6" textLength="56" lengthAdjust="spacingAndGlyphs">WCFS1</text>
<path class="ax" d="M100,0H1193"/>
<use href="#tk" x="219"/><text class="x" x="220" y="8.5">306k</text>
<use href="#tk" x="383"/><text class="x" x="384" y="8.5">309k</text>
<use href="#tk" x="547"/><text class="x" x="548" y="8.5">312k</text>
<use href="#tk" x="711"/><text class="x" x="712" y="8.5">315k</text>
<use href="#tk" x="876"/><text class="x" x="877" y="8.5">318k</text>
<use href="#tk" x="1040"/><text class="x" x="1041" y="8.5">321k</text>
<g id="w6-g1"><path class="n tl" d="M100,8H135V26H100Z"/><rect class="wh" x="126" y="8.6" width="1.5" height="16.8"/></g>
<g id="w6-g2"><path class="n ol" d="M143,17L150,8H193V26H150Z"/><rect class="wh" x="167" y="8.6" width="2" height="16.8"/></g>
<g id="w6-g3"><path class="n wh" d="M195,17L202,8H205V26H202Z"/></g>
<g id="w6-pepD2"><path class="n lg" d="M242,-27H311L318,-18L311,-9H242Z"/><text class="l" x="244" y="-13.5">pepD2</text></g>
<g id="w6-g5"><path class="n wh" d="M323,-27H329L336,-18L329,-9H323Z"/></g>
<g id="w6-g6"><path class="n ly" d="M344,-27H366L373,-18L366,-9H344Z"/></g>
<g id="w6-birA1"><path class="n lb" d="M377,-27H422L429,-18L422,-9H377Z"/><rect class="or" x="377.5" y="-26.4" width="17" height="16.8"/><text class="l" x="379" y="-13.5">birA1</text></g>
<g id="w6-g8"><path class="n my" d="M429,-27H439L446,-18L439,-9H429Z"/></g>
<g id="w6-lp0339"><path class="n lg" d="M455,-27H513L520,-18L513,-9H455Z"/><text class="l" x="457" y="-13.5">lp_0339</text></g>
<g id="w6-lp0340"><path class="n wh" d="M530,17L537,8H593V26H537Z"/><text class="l" x="538" y="21.5">lp_0340</text></g>
<g id="w6-tagG"><path class="k tl" d="M625,-27H662L669,-18L662,-9H625Z"/><text class="l" x="627" y="-13.5">tagG</text></g>
<g id="w6-tagH"><path class="k tl" d="M671,-27H724L731,-18L724,-9H671Z"/><rect class="wh" x="692" y="-25.7" width="11" height="15.4"/><text class="l" x="673" y="-13.5">tagH</text></g>
<g id="w6-g13"><path class="n wh" d="M752,-27H759L766,-18L759,-9H752Z"/></g>
<g id="w6-g14"><path class="n or" d="M779,-27H800L807,-18L800,-9H779Z"/><rect class="wh" x="779.5" y="-26.4" width="4" height="16.8"/></g>
<g id="w6-lp0348"><path class="n st" d="M809,-27H880L887,-18L880,-9H809Z"/><rect class="tl" x="809.5" y="-26.4" width="71" height="3"/><rect fill="#c03030" x="810" y="-17" width="72" height="3.2"/><rect class="wh" x="862" y="-26.4" width="1.5" height="16.8"/><text class="l" x="811" y="-13.5">lp_0348</text></g>
<g id="w6-amtB"><path class="n dr" d="M906,17L913,8H977V26H913Z"/><rect class="wh" x="971" y="8.6" width="5.5" height="16.8"/><text class="l p" x="916" y="21.5">amtB</text></g>
<g id="w6-hicD1"><path class="n ye" d="M1005,-27H1050L1057,-18L1050,-9H1005Z"/><text class="l" x="1007" y="-13.5">hicD1</text></g>
<g id="w6-g18"><path class="n wh" d="M1062,-27H1069L1076,-18L1069,-9H1062Z"/></g>
<g id="w6-zmp1"><path class="n ol" d="M1092,17L1099,8H1121V26H1099Z"/><rect class="wh" x="1115" y="8.6" width="5.5" height="16.8"/><text class="l" x="1097" y="21.5">zmp1</text></g>
<g id="w6-rpiA2"><path class="n tl" d="M1132,-27H1161L1168,-18L1161,-9H1132Z"/><rect class="wh" x="1150" y="-26.4" width="1.2" height="16.8"/><text class="l" x="1134" y="-13.5">rpiA2</text></g>
<g id="w6-g21"><path class="n pg" d="M1177,-27H1193V-9H1177Z"/><rect class="wh" x="1183" y="-26.4" width="2" height="16.8"/></g>
<g id="w6-term"><use href="#td" x="140"/><use href="#tu" x="342"/><use href="#tu" x="529"/><use href="#td" x="524"/><use href="#tu" x="735"/><use href="#tu" x="892"/><use href="#td" x="888"/><use href="#tu" x="1082"/><use href="#td" x="1081"/></g>
</g>

<!-- Panel 6 JDM1 -->
<g id="track6-jdm1" transform="translate(0,953)">
<text class="s" x="41" y="0" textLength="43" lengthAdjust="spacingAndGlyphs">JDM1</text>
<path class="ax" d="M100,0H1193"/>
<use href="#tk" x="184"/><text class="x" x="185" y="8.5">315k</text>
<use href="#tk" x="349"/><text class="x" x="350" y="8.5">318k</text>
<use href="#tk" x="515"/><text class="x" x="516" y="8.5">321k</text>
<use href="#tk" x="677"/><text class="x" x="678" y="8.5">324k</text>
<use href="#tk" x="841"/><text class="x" x="842" y="8.5">327k</text>
<use href="#tk" x="1006"/><text class="x" x="1007" y="8.5">330k</text>
<use href="#tk" x="1170"/><text class="x" x="1171" y="8.5">333k</text>
<g id="j6-g1"><path class="n lg" d="M100,-27H104L111,-18L104,-9H100Z"/></g>
<g id="j6-g2"><path class="n wh" d="M115,-27H122L129,-18L122,-9H115Z"/></g>
<g id="j6-g3"><path class="n ly" d="M136,-27H159L166,-18L159,-9H136Z"/></g>
<g id="j6-birA1"><path class="n lb" d="M168,-27H215L222,-18L215,-9H168Z"/><rect class="or" x="168.5" y="-26.4" width="17.5" height="16.8"/><text class="l" x="170" y="-13.5">birA1</text></g>
<g id="j6-g5"><path class="n wh" d="M223,17L230,8H237V26H230Z"/></g>
<g id="j6-g6"><path class="n dr" d="M263,-27H299L306,-18L299,-9H263Z"/><rect class="wh" x="291" y="-26.4" width="1.5" height="16.8"/></g>
<g id="j6-g7"><path class="n dr" d="M308,-27H356L363,-18L356,-9H308Z"/><rect class="wh" x="312" y="-26.4" width="1.5" height="16.8"/></g>
<g id="j6-g8"><path class="n dr" d="M364,-27H393L400,-18L393,-9H364Z"/><rect class="wh" x="383" y="-26.4" width="1.5" height="16.8"/></g>
<g id="j6-panE2"><path class="n lb" d="M401,-27H446L453,-18L446,-9H401Z"/><text class="l" x="403" y="-13.5">panE2</text></g>
<g id="j6-g10"><path class="n lg" d="M455,-27H513L520,-18L513,-9H455Z"/></g>
<g id="j6-g11"><path class="n wh" d="M530,17L537,8H593V26H537Z"/></g>
<g id="j6-tagG"><path class="k tl" d="M625,-27H662L669,-18L662,-9H625Z"/><text class="l" x="627" y="-13.5">tagG</text></g>
<g id="j6-tagH"><path class="k tl" d="M671,-27H724L731,-18L724,-9H671Z"/><rect class="wh" x="692" y="-25.7" width="11" height="15.4"/><text class="l" x="673" y="-13.5">tagH</text></g>
<g id="j6-g13"><path class="n wh" d="M752,-27H759L766,-18L759,-9H752Z"/></g>
<g id="j6-g14"><path class="n or" d="M779,-27H800L807,-18L800,-9H779Z"/><rect class="wh" x="779.5" y="-26.4" width="4" height="16.8"/></g>
<g id="j6-0312"><path class="n st" d="M809,-27H880L887,-18L880,-9H809Z"/><rect class="tl" x="809.5" y="-26.4" width="71" height="3"/><rect fill="#c03030" x="810" y="-15" width="72" height="3.2"/><rect class="wh" x="862" y="-26.4" width="1.5" height="16.8"/><text class="l" x="811" y="-13.5">JDM1_0312</text></g>
<g id="j6-amtB"><path class="n dr" d="M906,17L913,8H977V26H913Z"/><path class="wh" d="M906.8,17L913,8.6H918V25.4H913Z"/><rect class="wh" x="971" y="8.6" width="5.5" height="16.8"/><text class="l p" x="914" y="21.5">amtB</text></g>
<g id="j6-hicD1"><path class="n ye" d="M1005,-27H1050L1057,-18L1050,-9H1005Z"/><text class="l" x="1007" y="-13.5">hicD1</text></g>
<g id="j6-g18"><path class="n wh" d="M1062,-27H1069L1076,-18L1069,-9H1062Z"/></g>
<g id="j6-zmp1"><path class="n ol" d="M1092,17L1099,8H1121V26H1099Z"/><rect class="wh" x="1115" y="8.6" width="5.5" height="16.8"/><text class="l" x="1097" y="21.5">zmp1</text></g>
<g id="j6-rpiA2"><path class="n tl" d="M1132,-27H1161L1168,-18L1161,-9H1132Z"/><text class="l" x="1134" y="-13.5">rpiA2</text></g>
<g id="j6-g21"><path class="n pg" d="M1177,-27H1193V-9H1177Z"/></g>
<g id="j6-term"><use href="#tu" x="529"/><use href="#td" x="526"/><use href="#tu" x="735"/><use href="#tu" x="893"/><use href="#td" x="887"/><use href="#tu" x="1082"/><use href="#td" x="1081"/></g>
</g>

<!-- Panel 7 WCFS1 -->
<g id="track7-wcfs1" transform="translate(0,1037)">
<rect class="bgp" x="99" y="-35" width="1094" height="70"/>
<text class="s" x="34" y="10" textLength="56" lengthAdjust="spacingAndGlyphs">WCFS1</text>
<path class="ax" d="M99,0H1193"/>
<use href="#tk" x="200"/><text class="x" x="201" y="8.5">240k</text>
<use href="#tk" x="368"/><text class="x" x="369" y="8.5">243k</text>
<use href="#tk" x="531"/><text class="x" x="532" y="8.5">246k</text>
<use href="#tk" x="696"/><text class="x" x="697" y="8.5">249k</text>
<use href="#tk" x="860"/><text class="x" x="861" y="8.5">252k</text>
<use href="#tk" x="1024"/><text class="x" x="1025" y="8.5">255k</text>
<use href="#tk" x="1188"/><text class="x" x="1189" y="8.5">258</text>
<g id="w7-pts4ABC"><path class="n wh" d="M100,-27H178L185,-18L178,-9H100Z"/><text class="l" x="102" y="-13.5">pts4ABC</text></g>
<g id="w7-pts5ABC"><path class="n wh" d="M196,-27H295L302,-18L295,-9H196Z"/><rect class="tl" x="196.5" y="-26.4" width="58" height="16.8"/><text class="l" x="198" y="-13.5">pts5ABC</text></g>
<g id="w7-g3"><path class="n wh" d="M306,17L313,8H349V26H313Z"/></g>
<g id="w7-tagD1"><path class="k bg" d="M368,-27H384L391,-18L384,-9H368Z"/><text class="l" x="362" y="-34">tagD1</text></g>
<g id="w7-tagF1"><path class="k bg" d="M391,-27H452L459,-18L452,-9H391Z"/><text class="l" x="393" y="-13.5">tagF1</text></g>
<g id="w7-tagF2"><path class="k bg" d="M460,-27H609L616,-18L609,-9H460Z"/><text class="l" x="462" y="-13.5">tagF2</text></g>
<g id="w7-vdcB"><path class="n wh" d="M631,-27H678L685,-18L678,-9H631Z"/><rect class="lb" x="631.5" y="-26.4" width="31" height="16.8"/><text class="l" x="633" y="-13.5">vdcB</text></g>
<g id="w7-g8"><path class="n or" d="M700,17L707,8H725V26H707Z"/></g>
<g id="w7-g9"><path class="n or" d="M733,-27H763L770,-18L763,-9H733Z"/><rect class="wh" x="748" y="-26.4" width="2" height="16.8"/></g>
<g id="w7-mntH1"><path class="n dr" d="M781,-27H849L856,-18L849,-9H781Z"/><path class="wh" d="M846,-26.4H849L855.3,-18L849,-9.6H846Z"/><text class="l p" x="783" y="-13.5">mntH1</text></g>
<g id="w7-g11"><path class="n wh" d="M863,17L870,8H900V26H870Z"/></g>
<g id="w7-g12"><path class="n wh" d="M903,17L910,8H920V26H910Z"/></g>
<g id="w7-g13"><path class="n wh" d="M923,17L930,8H937V26H930Z"/></g>
<g id="w7-lp0280"><path class="n st" d="M951,17L958,8H1030V26H958Z"/><rect class="tl" x="958" y="8.6" width="71.5" height="3"/><rect fill="#c03030" x="956" y="15" width="73.5" height="3.2"/><rect class="wh" x="1010" y="8.6" width="1.5" height="16.8"/><text class="l" x="959" y="21.5">lp_0280</text></g>
<g id="w7-g15"><path class="n or" d="M1032,-27H1046L1053,-18L1046,-9H1032Z"/><rect class="wh" x="1043" y="-26.4" width="3" height="16.8"/></g>
<g id="w7-hpk2"><path class="n wh" d="M1062,17L1069,8H1141V26H1069Z"/><rect class="mg" x="1080" y="8.6" width="55" height="16.8"/><rect class="wh" x="1118" y="8.6" width="1.5" height="16.8"/><text class="l" x="1070" y="21.5">hpk2</text></g>
<g id="w7-rrp2"><path class="n mg" d="M1141,17L1148,8H1176V26H1148Z"/><rect class="or" x="1155" y="8.6" width="20.5" height="16.8"/><text class="l" x="1146" y="21.5">rrp2</text></g>
<g id="w7-g18"><path class="n wh" d="M1184,-27H1193V-9H1184Z"/></g>
<g id="w7-term"><use href="#td" x="188"/><use href="#tu" x="307"/><use href="#tu" x="855"/><use href="#td" x="858"/><use href="#td" x="1055"/></g>
</g>

<!-- Panel 7 JDM1 -->
<g id="track7-jdm1" transform="translate(0,1114)">
<rect class="bgp" x="99" y="-35" width="1094" height="70"/>
<text class="s" x="41" y="2" textLength="43" lengthAdjust="spacingAndGlyphs">JDM1</text>
<path class="ax" d="M99,0H1193"/>
<use href="#tk" x="200"/><text class="x" x="201" y="8.5">246k</text>
<use href="#tk" x="365"/><text class="x" x="366" y="8.5">249k</text>
<use href="#tk" x="530"/><text class="x" x="531" y="8.5">252k</text>
<use href="#tk" x="694"/><text class="x" x="695" y="8.5">255k</text>
<use href="#tk" x="858"/><text class="x" x="859" y="8.5">258k</text>
<use href="#tk" x="1022"/><text class="x" x="1023" y="8.5">261k</text>
<use href="#tk" x="1186"/><text class="x" x="1182" y="8.5">264k</text>
<g id="j7-g0"><path class="n wh" d="M100,8H108V26H100Z"/></g>
<g id="j7-g1"><path class="n lb" d="M110,-27H146L153,-18L146,-9H110Z"/><rect class="wh" x="122" y="-26.4" width="4" height="16.8"/></g>
<g id="j7-g2"><path class="n wh" d="M165,-27H171L178,-18L171,-9H165Z"/></g>
<g id="j7-g3"><path class="n wh" d="M181,-27H188L195,-18L188,-9H181Z"/></g>
<g id="j7-treR"><path class="n or" d="M212,-27H236L243,-18L236,-9H212Z"/><text class="l" x="214" y="-13.5">treR</text></g>
<g id="j7-treA"><path class="n tl" d="M250,-27H338L345,-18L338,-9H250Z"/><text class="l" x="252" y="-13.5">treA</text></g>
<g id="j7-pts4ABC"><path class="n tl" d="M345,-27H447L454,-18L447,-9H345Z"/><path class="wh" d="M405,-26.4H447L453.3,-18L447,-9.6H405Z"/><text class="l" x="347" y="-13.5">pts4ABC</text></g>
<g id="j7-pts5ABC"><path class="n wh" d="M464,-27H565L572,-18L565,-9H464Z"/><rect class="tl" x="464.5" y="-26.4" width="56" height="16.8"/><text class="l" x="466" y="-13.5">pts5ABC</text></g>
<g id="j7-g8"><path class="n wh" d="M575,17L582,8H618V26H582Z"/></g>
<g id="j7-vdcB"><path class="n wh" d="M631,-27H678L685,-18L678,-9H631Z"/><rect class="lb" x="631.5" y="-26.4" width="31" height="16.8"/><text class="l" x="633" y="-13.5">vdcB</text></g>
<g id="j7-g10"><path class="n or" d="M700,17L707,8H725V26H707Z"/></g>
<g id="j7-g11"><path class="n or" d="M733,-27H763L770,-18L763,-9H733Z"/><rect class="wh" x="748" y="-26.4" width="2" height="16.8"/></g>
<g id="j7-mntH1"><path class="n dr" d="M781,-27H849L856,-18L849,-9H781Z"/><path class="wh" d="M846,-26.4H849L855.3,-18L849,-9.6H846Z"/><text class="l p" x="783" y="-13.5">mntH1</text></g>
<g id="j7-g13"><path class="n wh" d="M863,17L870,8H900V26H870Z"/></g>
<g id="j7-g14"><path class="n wh" d="M903,17L910,8H920V26H910Z"/></g>
<g id="j7-g15"><path class="n wh" d="M923,17L930,8H937V26H930Z"/></g>
<g id="j7-0247"><path class="n st" d="M951,17L958,8H1030V26H958Z"/><rect class="tl" x="958" y="8.6" width="71.5" height="3"/><rect fill="#c03030" x="956" y="15" width="73.5" height="3.2"/><text class="l" x="957" y="21.5">JDM1_0247</text></g>
<g id="j7-g17"><path class="n or" d="M1032,-27H1046L1053,-18L1046,-9H1032Z"/><rect class="wh" x="1043" y="-26.4" width="3" height="16.8"/></g>
<g id="j7-hpk2"><path class="n wh" d="M1062,17L1069,8H1141V26H1069Z"/><rect class="mg" x="1080" y="8.6" width="55" height="16.8"/><rect class="wh" x="1118" y="8.6" width="1.5" height="16.8"/><text class="l" x="1070" y="21.5">hpk2</text></g>
<g id="j7-rrp2"><path class="n mg" d="M1141,17L1148,8H1176V26H1148Z"/><rect class="or" x="1155" y="8.6" width="20.5" height="16.8"/><text class="l" x="1146" y="21.5">rrp2</text></g>
<g id="j7-g20"><path class="n wh" d="M1184,-27H1193V-9H1184Z"/></g>
<g id="j7-term"><use href="#td" x="158"/><use href="#tu" x="458"/><use href="#tu" x="576"/><use href="#td" x="856"/><use href="#td" x="1057"/></g>
</g>

<!-- Part B -->
<text x="187" y="1262" font-size="25" fill="#111">B</text>
<g id="jdm1-insert">
<text class="bl" x="535" y="1208" text-anchor="middle">JDM1 (160 bp)</text>
<rect x="255" y="1216" width="642" height="80" fill="#fff" stroke="#000" stroke-width="3"/>
<text class="seq" x="266" y="1237" textLength="621" lengthAdjust="spacingAndGlyphs">TCAAATGTTATTAGAGTCGTTTGATTCGCTGATATTCCAGTTAAGAATATTAA</text>
<text class="seq" x="266" y="1260" textLength="621" lengthAdjust="spacingAndGlyphs">CCAGTCAAAACTCGATTTGTTTCAACCAATCGCGCAGGTTAAGATAAAGATGA</text>
<text class="seq" x="266" y="1283" textLength="621" lengthAdjust="spacingAndGlyphs">AGGCTTAATTGAATCATAATATCATTAATCTACAGAAACGGGGCGATGTTGTC</text>
</g>
<g id="left-flank">
<text class="seq" x="173" y="1380" textLength="233" lengthAdjust="spacingAndGlyphs">TGTTTGGTTTTAATGATAAA</text>
<text class="seq" x="173" y="1403" textLength="233" lengthAdjust="spacingAndGlyphs">TGTTTGGTTTTAATGATAAA</text>
</g>
<g id="right-flank">
<text class="seq" x="752" y="1380" textLength="234" lengthAdjust="spacingAndGlyphs"><tspan font-weight="bold" fill="#000">ATG</tspan>AAACGAATTGTTGTGGG</text>
<text class="seq" x="752" y="1403" textLength="234" lengthAdjust="spacingAndGlyphs"><tspan font-weight="bold" fill="#000">ATG</tspan>AAACGAATTGTTGTGGG</text>
<path d="M752,1384H787M752,1407H787" stroke="#000" stroke-width="1.4"/>
</g>
<g id="connectors" fill="none" stroke="#000" stroke-width="2.6" stroke-linecap="round" stroke-dasharray="0.1 4.6">
<path d="M258,1299C345,1301 402,1320 405,1364"/>
<path d="M895,1299C808,1301 754,1320 752,1364"/>
<path d="M406,1409C385,1445 260,1495 160,1527"/>
<path d="M752,1411C765,1455 955,1495 1080,1527"/>
</g>
<g id="wcfs1-locus">
<path d="M161,1527H1080" stroke="#a5a5a5" stroke-width="2.5"/>
<g id="b-tagD1"><path class="ar" d="M201,1512H307L328,1527L307,1542H201Z"/><text class="bi" x="254" y="1534" text-anchor="middle">tagD1</text></g>
<g id="b-tagF1"><path class="ar" d="M328,1512H560L582,1527L560,1542H328Z"/><text class="bi" x="453" y="1534" text-anchor="middle">tagF1</text></g>
<g id="b-tagF2"><path class="ar" d="M582,1512H990L1012,1527L990,1542H582Z"/><text class="bi" x="786" y="1534" text-anchor="middle">tagF2</text></g>
<g id="b-term" stroke="#a0a0a0" stroke-width="2.5">
<path d="M1016,1511V1527M1035,1511V1527" fill="none"/>
<circle cx="1016" cy="1502" r="8.5" fill="#fff"/><circle cx="1035" cy="1502" r="8.5" fill="#fff"/>
</g>
<circle cx="1016" cy="1502" r="2.2" fill="#444"/>
<text class="bl" x="567" y="1570" text-anchor="middle">WCFS1 (5.1 kb)</text>
</g>
</svg>
